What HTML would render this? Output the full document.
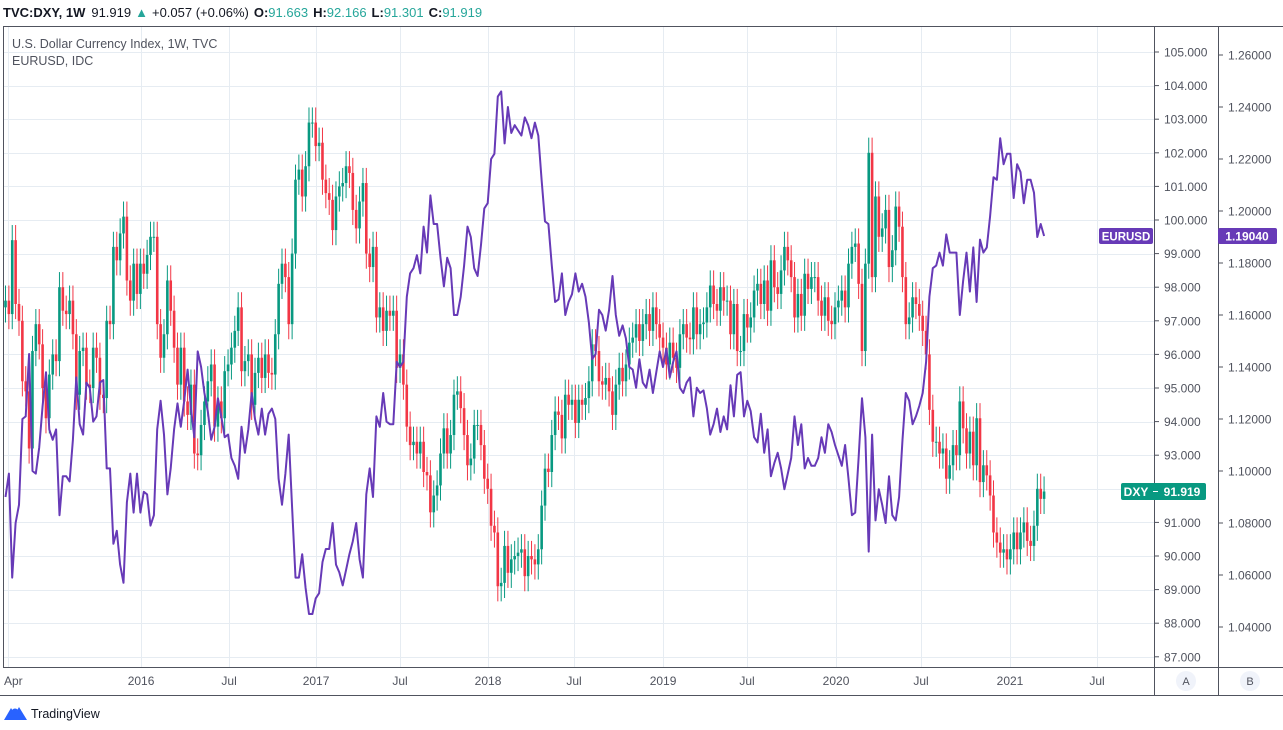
<!DOCTYPE html>
<html><head><meta charset="utf-8">
<style>
html,body{margin:0;padding:0;background:#fff;width:1283px;height:730px;overflow:hidden;font-family:"Liberation Sans",sans-serif;}
svg{position:absolute;left:0;top:0;}
text{font-family:"Liberation Sans",sans-serif;}
</style></head>
<body>
<svg id="chart" width="1283" height="730">
  <g id="grid"></g>
  <g id="candles"></g>
  <g id="eurline"></g>
  <g id="frame">
    <line x1="3.5" y1="26" x2="3.5" y2="667" stroke="#50535e" stroke-width="1"/>
    <line x1="3" y1="26.5" x2="1283" y2="26.5" stroke="#50535e" stroke-width="1"/>
    <line x1="1154.5" y1="26" x2="1154.5" y2="695" stroke="#50535e" stroke-width="1"/>
    <line x1="1218.5" y1="26" x2="1218.5" y2="695" stroke="#50535e" stroke-width="1"/>
    <line x1="3" y1="667.5" x2="1283" y2="667.5" stroke="#50535e" stroke-width="1"/>
    <line x1="0" y1="695.5" x2="1283" y2="695.5" stroke="#50535e" stroke-width="1"/>
  </g>
  <g id="axisA"></g>
  <g id="axisB"></g>
  <g id="xaxis"></g>
  <g>
    <text x="3" y="17" font-size="13" fill="#131722"><tspan font-weight="bold">TVC:DXY, 1W</tspan><tspan dx="6">91.919</tspan><tspan fill="#26a69a" dx="4">▲</tspan><tspan dx="4">+0.057 (+0.06%)</tspan><tspan dx="5" font-weight="bold">O:</tspan><tspan fill="#26a69a">91.663</tspan><tspan dx="5" font-weight="bold">H:</tspan><tspan fill="#26a69a">92.166</tspan><tspan dx="5" font-weight="bold">L:</tspan><tspan fill="#26a69a">91.301</tspan><tspan dx="5" font-weight="bold">C:</tspan><tspan fill="#26a69a">91.919</tspan></text>
  </g>
  <text x="12" y="48" font-size="12.5" fill="#50535e">U.S. Dollar Currency Index, 1W, TVC</text>
  <text x="12" y="65" font-size="12.5" fill="#50535e">EURUSD, IDC</text>
  <g>
    <rect x="1099" y="228" width="54" height="16" rx="2" fill="#673ab7"/>
    <text x="1126" y="240.5" font-size="11.5" font-weight="bold" fill="#fff" text-anchor="middle">EURUSD</text>
    <rect x="1218" y="228" width="59" height="16" rx="2" fill="#673ab7"/>
    <text x="1247" y="240.5" font-size="12" font-weight="bold" fill="#fff" text-anchor="middle">1.19040</text>
  </g>
  <g>
    <rect x="1121" y="483" width="85" height="17" rx="2" fill="#089981"/>
    <text x="1136" y="496" font-size="12" font-weight="bold" fill="#fff" text-anchor="middle">DXY</text>
    <line x1="1153" y1="491.5" x2="1158" y2="491.5" stroke="#fff"/>
    <text x="1182" y="496" font-size="12" font-weight="bold" fill="#fff" text-anchor="middle">91.919</text>
  </g>
  <g>
    <circle cx="1186" cy="681" r="10" fill="#f0f3fa"/>
    <text x="1186" y="685" font-size="11" fill="#50535e" text-anchor="middle">A</text>
  </g>
  <g>
    <circle cx="1250" cy="681" r="10" fill="#f0f3fa"/>
    <text x="1250" y="685" font-size="11" fill="#50535e" text-anchor="middle">B</text>
  </g>
  <g>
    <path d="M4 720 L11 708 L15 714 L19 707 L27 720 Z" fill="#2962ff"/>
    <circle cx="15" cy="712" r="3.5" fill="#2962ff"/>
    <text x="31" y="718" font-size="12.5" fill="#131722">TradingView</text>
  </g>
</svg>
<script>
const dxyClose = [
97.6,97.2,99.4,97.5,97.0,95.2,94.9,93.2,96.1,96.9,
96.3,95.0,94.1,95.4,96.0,95.8,98.0,97.3,97.2,97.6,
96.6,94.8,96.1,96.2,95.1,95.0,96.2,95.9,94.8,94.7,
97.0,96.9,99.2,98.8,99.6,100.1,98.2,97.6,98.7,97.8,
98.7,98.4,98.96,99.5,99.5,96.9,95.9,96.6,98.2,97.3,
96.2,95.1,96.2,94.6,94.2,95.1,93.05,93.0,93.9,94.6,
95.2,95.7,93.85,94.6,94.1,95.5,95.7,96.2,96.7,97.4,
95.5,95.8,96.0,94.5,95.45,95.9,95.3,96.0,95.45,95.4,
96.6,98.1,98.7,98.3,96.9,99.0,101.2,101.5,100.7,101.6,
102.9,102.9,102.2,102.3,101.2,100.8,100.6,99.7,100.7,101.0,
101.1,101.6,101.4,100.3,99.75,100.55,101.1,
99.0,98.6,99.2,97.1,97.4,96.7,97.3,97.15,97.3,95.6,
96.0,95.1,93.85,93.3,93.4,93.05,93.4,92.5,92.4,91.3,
91.8,92.1,93.05,93.8,93.05,93.6,94.8,94.9,94.4,93.6,
92.7,92.9,93.9,93.9,93.3,92.3,92.0,90.9,90.7,89.1,
89.2,90.3,89.5,89.9,90.0,90.1,90.2,89.4,90.0,89.9,
89.75,90.2,91.5,92.6,92.5,93.6,94.3,94.2,93.5,94.8,
94.5,94.65,93.96,94.65,94.5,94.7,95.2,96.3,96.1,95.2,
95.1,95.3,94.9,94.2,95.1,95.6,95.2,95.7,96.35,96.5,
96.9,96.4,96.9,97.2,96.7,97.4,96.9,96.5,96.2,95.7,
96.35,95.9,95.6,96.6,96.9,96.5,96.45,97.4,96.6,96.9,
96.95,97.4,98.05,97.5,97.3,98.0,97.6,97.6,96.6,97.5,
96.1,96.1,97.2,96.8,97.1,97.9,98.1,97.5,98.2,97.3,
98.8,98.0,97.8,98.5,99.2,98.8,98.3,97.1,97.8,97.15,
98.4,97.95,98.3,98.3,97.6,97.15,97.7,97.0,96.9,97.4,
97.6,97.9,97.4,98.7,99.2,99.3,98.1,96.1,98.7,102.0,
98.3,100.7,99.5,99.75,100.3,98.6,99.1,100.4,99.8,98.3,
96.9,97.1,97.7,97.5,97.15,96.7,96.0,94.35,93.4,93.4,
93.05,93.2,92.3,92.7,93.3,93.0,94.6,93.8,93.05,93.7,
92.7,94.1,92.2,92.7,92.4,91.8,90.7,90.4,90.1,90.2,
89.9,90.2,90.7,90.2,90.7,91.0,90.45,90.3,90.9,92.0,
91.7,91.919
];
const dxyFirstOpen = 97.4;
const eurClose = [
1.090,1.099,1.059,1.080,1.087,1.120,1.121,1.145,1.100,1.099,
1.109,1.125,1.138,1.116,1.112,1.116,1.083,1.098,1.098,1.096,
1.112,1.136,1.118,1.114,1.134,1.132,1.119,1.121,1.134,1.135,
1.101,1.101,1.072,1.077,1.064,1.057,1.088,1.099,1.084,1.099,
1.084,1.092,1.091,1.079,1.083,1.116,1.127,1.114,1.091,1.101,
1.116,1.126,1.117,1.127,1.139,1.124,1.113,1.146,1.140,1.130,
1.123,1.112,1.117,1.128,1.121,1.113,1.114,1.105,1.102,1.097,
1.117,1.107,1.116,1.130,1.120,1.114,1.124,1.114,1.122,1.124,
1.120,1.097,1.087,1.099,1.114,1.086,1.059,1.059,1.068,1.055,
1.045,1.045,1.051,1.053,1.065,1.070,1.070,1.080,1.064,1.061,
1.056,1.062,1.068,1.073,1.080,1.066,1.059,
1.091,1.101,1.090,1.121,1.117,1.130,1.119,1.118,1.118,1.142,
1.140,1.142,1.167,1.176,1.178,1.183,1.176,1.194,1.184,1.206,
1.195,1.195,1.182,1.171,1.182,1.178,1.160,1.160,1.167,1.179,
1.194,1.190,1.178,1.175,1.187,1.201,1.203,1.220,1.222,1.244,
1.246,1.226,1.240,1.230,1.233,1.231,1.229,1.236,1.233,1.228,
1.234,1.229,1.212,1.196,1.195,1.179,1.165,1.166,1.176,1.160,
1.165,1.168,1.176,1.169,1.172,1.167,1.157,1.143,1.145,1.162,
1.160,1.154,1.162,1.175,1.160,1.152,1.156,1.151,1.140,1.139,
1.132,1.143,1.134,1.132,1.139,1.130,1.138,1.146,1.140,1.147,
1.136,1.142,1.146,1.132,1.130,1.134,1.136,1.121,1.132,1.130,
1.131,1.124,1.114,1.118,1.124,1.115,1.121,1.116,1.133,1.121,
1.137,1.138,1.121,1.127,1.123,1.113,1.111,1.122,1.107,1.116,
1.098,1.103,1.107,1.101,1.093,1.099,1.105,1.121,1.110,1.118,
1.101,1.105,1.102,1.102,1.105,1.113,1.107,1.118,1.115,1.110,
1.106,1.102,1.110,1.097,1.083,1.084,1.105,1.128,1.113,1.069,
1.114,1.081,1.093,1.087,1.080,1.098,1.083,1.081,1.090,1.112,
1.130,1.127,1.118,1.121,1.125,1.130,1.142,1.167,1.178,1.179,
1.184,1.179,1.191,1.184,1.184,1.184,1.160,1.173,1.184,1.169,
1.186,1.165,1.189,1.184,1.186,1.198,1.213,1.212,1.228,1.218,
1.222,1.222,1.205,1.218,1.215,1.203,1.212,1.212,1.207,1.190,
1.195,1.1904
];
const dxyTicks = [105,104,103,102,101,100,99,98,97,96,95,94,93,92,91,90,89,88,87];
const eurTicks = [1.26,1.24,1.22,1.20,1.18,1.16,1.14,1.12,1.10,1.08,1.06,1.04];
const timeLabels = ["Apr","2016","Jul","2017","Jul","2018","Jul","2019","Jul","2020","Jul","2021","Jul"];
const timeLabelWeeks = [0.6,40.2,66.3,92.1,117.0,143.1,168.6,195.0,219.9,246.3,271.5,297.9,323.7];

const NS="http://www.w3.org/2000/svg";
function mk(tag,attrs,parent){const e=document.createElementNS(NS,tag);for(const k in attrs)e.setAttribute(k,attrs[k]);parent.appendChild(e);return e;}
const xW = w => 5.5 + w*3.372;
const yD = v => 52 + (105 - v)*33.6;
const yE = v => 107 + (1.24 - v)*2600;

const grid=document.getElementById('grid');
dxyTicks.forEach(t=>{
  const y=Math.round(yD(t))+0.5;
  const l=mk('line',{x1:4,x2:1154,y1:y,y2:y,stroke:'#e6ecf2','stroke-width':1},grid);
  
  
});
timeLabelWeeks.forEach(w=>{
  const x=Math.round(xW(w))+0.5;
  const l=mk('line',{x1:x,x2:x,y1:27,y2:667,stroke:'#e6ecf2','stroke-width':1},grid);
  
  
});

const cg=document.getElementById('candles');
let prev=dxyFirstOpen;
dxyClose.forEach((c,i)=>{
  const o=prev; prev=c;
  const up=c>=o; const col=up?'#089981':'#f23645';
  const hi=Math.max(o,c)+0.45, lo=Math.min(o,c)-0.45;
  const x=xW(i);
  const g=mk('g',{},cg);
  
  
  mk('line',{x1:x,x2:x,y1:yD(hi),y2:yD(lo),stroke:col,'stroke-width':1},g);
  const top=yD(Math.max(o,c)), bot=yD(Math.min(o,c));
  mk('rect',{x:x-1.3,y:top,width:2.6,height:Math.max(1,bot-top),fill:col},g);
});

const eg=document.getElementById('eurline');
const pts=eurClose.map((v,i)=>xW(i).toFixed(1)+','+yE(v).toFixed(1)).join(' ');
const pl=mk('polyline',{points:pts,fill:'none',stroke:'#673ab7','stroke-width':2,'stroke-linejoin':'round'},eg);



const aA=document.getElementById('axisA');
dxyTicks.forEach(t=>{
  const y=yD(t);
  mk('line',{x1:1154,x2:1159,y1:y,y2:y,stroke:'#50535e'},aA);
  const tx=mk('text',{x:1164,y:y+4.5,'font-size':12,fill:'#50535e'},aA);
  tx.textContent=t.toFixed(3);
  
  
});
const aB=document.getElementById('axisB');
eurTicks.forEach(t=>{
  const y=yE(t);
  mk('line',{x1:1218,x2:1223,y1:y,y2:y,stroke:'#50535e'},aB);
  const tx=mk('text',{x:1228,y:y+4.5,'font-size':12,fill:'#50535e'},aB);
  tx.textContent=t.toFixed(5);
  
  
});
const xa=document.getElementById('xaxis');
timeLabels.forEach((lab,i)=>{
  const x=xW(timeLabelWeeks[i]);
  const tx=mk('text',{x:i===0?4:x,y:685,'font-size':12,fill:'#50535e','text-anchor':i===0?'start':'middle'},xa);
  tx.textContent=lab;
  
  
});
</script>
</body></html>
